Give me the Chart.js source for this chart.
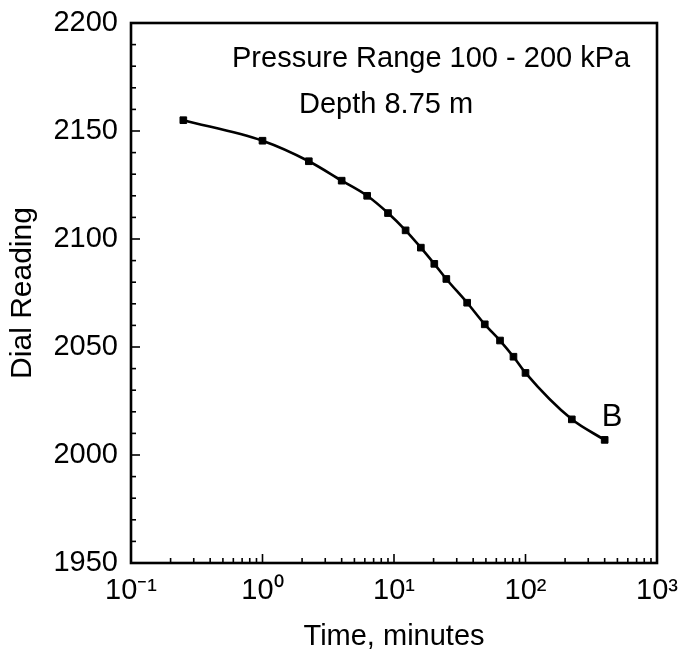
<!DOCTYPE html>
<html>
<head>
<meta charset="utf-8">
<script src="https://cdn.jsdelivr.net/npm/chart.js@4.4.1/dist/chart.umd.min.js"></script>
<style>
	html, body { margin: 0; padding: 0; background: #fff; }
	canvas { display: block; }
</style>
</head>
<body>
<canvas id="chart-dial-reading" width="685" height="657"></canvas>
<script>
// Time (minutes) and dial readings
const TIME_MIN = [0.25, 1, 2.25, 4, 6.25, 9, 12.25, 16, 20.25, 25, 36, 49, 64, 81, 100, 225, 400];
const DIAL_READING = [2155, 2145.5, 2136, 2127, 2120, 2112, 2104, 2096, 2088.5, 2081.5, 2070.5, 2060.5, 2053, 2045.5, 2038, 2016.5, 2007];

// Axis ticks
const X_DECADES = [0.1, 1, 10, 100, 1000];
const X_TICK_LABELS = ["10\u207B\u00B9", "10\u2070", "10\u00B9", "10\u00B2", "10\u00B3"];
const Y_MIN = 1950;
const Y_MAX = 2200;
const Y_MINOR_STEP = 10;
const Y_MAJOR_STEP = 50;

const NOTE_RANGE = "Pressure Range 100 - 200 kPa";
const NOTE_DEPTH = "Depth 8.75 m";
const NOTE_POINT = "B";

const FONT = "'Liberation Sans', Arial, Helvetica, sans-serif";

// minor ticks 1..9 per decade
const X_TICKS = [];
X_DECADES.slice(0, -1).forEach((d) => {
	for (let m = 1; m <= 9; m++) X_TICKS.push(m * d);
});
X_TICKS.push(X_DECADES[X_DECADES.length - 1]);

const isDecade = (v) => X_DECADES.indexOf(v) !== -1;

// Inward ticks, frame and notes
const frameAndNotes = {
	id: "frameAndNotes",
	afterDraw(chart) {
		const { ctx, chartArea: a } = chart;
		const x = chart.scales.x;
		const y = chart.scales.y;
		ctx.save();
		ctx.strokeStyle = "#000";
		ctx.lineWidth = 1.6;
		x.ticks.forEach((t) => {
			const px = x.getPixelForValue(t.value);
			const len = isDecade(t.value) ? 9 : 5;
			ctx.beginPath();
			ctx.moveTo(px, a.bottom);
			ctx.lineTo(px, a.bottom - len);
			ctx.stroke();
		});
		y.ticks.forEach((t) => {
			const py = y.getPixelForValue(t.value);
			const len = t.value % Y_MAJOR_STEP === 0 ? 9 : 5;
			ctx.beginPath();
			ctx.moveTo(a.left, py);
			ctx.lineTo(a.left + len, py);
			ctx.stroke();
		});

		ctx.lineWidth = 2.6;
		ctx.strokeRect(a.left, a.top, a.right - a.left, a.bottom - a.top);

		// text notes
		ctx.fillStyle = "#000";
		ctx.textAlign = "left";
		ctx.textBaseline = "alphabetic";
		ctx.font = "29px " + FONT;
		ctx.fillText(NOTE_RANGE, a.left + 101, a.top + 44);
		ctx.fillText(NOTE_DEPTH, a.left + 168, a.top + 90);

		const last = chart.getDatasetMeta(0).data[TIME_MIN.length - 1];
		ctx.font = "31px " + FONT;
		ctx.fillText(NOTE_POINT, last.x - 3, last.y - 14);
		ctx.restore();
	},
};

const CHART_DATA = {
	datasets: [
		{
			label: "Dial Reading",
			data: TIME_MIN.map((t, i) => ({ x: t, y: DIAL_READING[i] })),
			borderColor: "#000",
			borderWidth: 2.6,
			cubicInterpolationMode: "monotone",
			pointStyle: "rect",
			pointRadius: 4.7,
			pointBorderWidth: 1,
			pointBackgroundColor: "#000",
			pointBorderColor: "#000",
			fill: false,
		},
	],
};

const CHART_CONFIG = {
	type: "line",
	data: CHART_DATA,
	plugins: [frameAndNotes],
	options: {
		responsive: false,
		animation: false,
		layout: {
			padding: { left: 0, top: 23, right: 28, bottom: 0 },
		},
		scales: {
			x: {
				type: "logarithmic",
				min: X_DECADES[0],
				max: X_DECADES[X_DECADES.length - 1],
				border: { display: false },
				// transparent tick marks only keep the label gap
				grid: { drawOnChartArea: false, drawTicks: true, tickLength: 11, tickColor: "rgba(0,0,0,0)" },
				afterBuildTicks: (scale) => {
					scale.ticks = X_TICKS.map((v) => ({ value: v }));
				},
				afterFit: (scale) => {
					scale.height = 94;
				},
				ticks: {
					autoSkip: false,
					maxRotation: 0,
					padding: 0,
					color: "#000",
					font: { family: FONT, size: 29 },
					callback: (value) => {
						const i = X_DECADES.indexOf(value);
						return i === -1 ? "" : X_TICK_LABELS[i];
					},
				},
				title: {
					display: true,
					text: "Time, minutes",
					color: "#000",
					font: { family: FONT, size: 29 },
					padding: { top: 0, bottom: 3 },
				},
			},
			y: {
				min: Y_MIN,
				max: Y_MAX,
				border: { display: false },
				grid: { drawOnChartArea: false, drawTicks: true, tickLength: 13, tickColor: "rgba(0,0,0,0)" },
				afterFit: (scale) => {
					scale.width = 131;
				},
				ticks: {
					stepSize: Y_MINOR_STEP,
					autoSkip: false,
					padding: 0,
					color: "#000",
					font: { family: FONT, size: 29 },
					callback: (value) => (value % Y_MAJOR_STEP === 0 ? value : ""),
				},
				title: {
					display: true,
					text: "Dial Reading",
					color: "#000",
					font: { family: FONT, size: 30 },
					padding: { top: 5, bottom: 0 },
				},
			},
		},
		plugins: {
			legend: { display: false },
			tooltip: { enabled: false },
		},
	},
};

const CHART_WRAPPER = document.getElementById("chart-dial-reading");
if (CHART_WRAPPER) {
	new Chart(CHART_WRAPPER, CHART_CONFIG);
}
</script>
</body>
</html>
